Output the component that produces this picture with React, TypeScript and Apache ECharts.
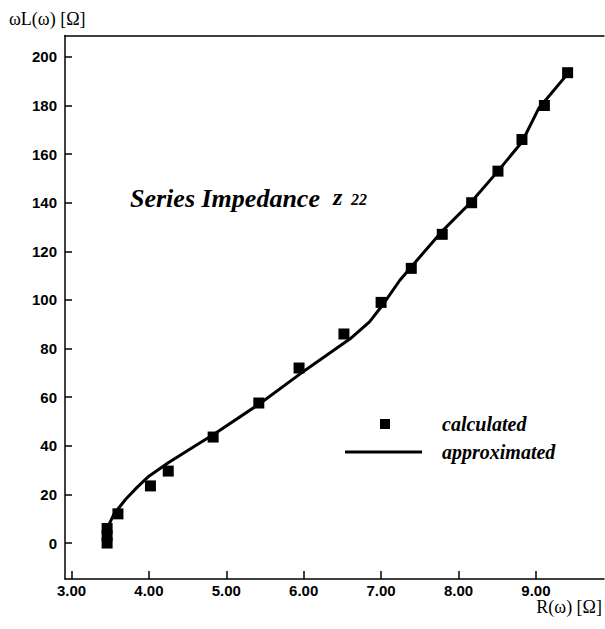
import React, { useEffect, useRef } from "react";
import * as echarts from "echarts";

// calculated points: R(ω) [Ω] and ωL(ω) [Ω]
const calcR = [3.46, 3.46, 3.46, 3.6, 4.02, 4.25, 4.83, 5.42, 5.94, 6.52, 7.0, 7.39, 7.79, 8.17, 8.51, 8.82, 9.11, 9.41];
const calcL = [0, 3, 6, 12, 23.5, 29.6, 43.6, 57.6, 72, 86, 99, 113, 127, 140, 153, 166, 180, 193.5];

// approximated curve
const approxR = [3.45, 3.46, 3.55, 3.7, 3.85, 4.0, 4.25, 4.6, 4.85, 5.44, 5.95, 6.6, 6.85, 7.01, 7.24, 7.4, 7.78, 8.17, 8.51, 8.82, 9.04, 9.41];
const approxL = [0, 6, 12, 18, 23, 27.5, 33, 40, 45, 57.5, 69.5, 84, 91, 97.5, 108, 114, 128, 140.5, 153, 165, 179, 193];

const xTicks = [3, 4, 5, 6, 7, 8, 9];
const yTicks = [0, 20, 40, 60, 80, 100, 120, 140, 160, 180, 200];

const SERIF = "'Liberation Serif', 'Times New Roman', serif";
const SANS = "'Liberation Sans', Arial, sans-serif";

export default function App() {
  const ref = useRef<HTMLDivElement>(null);
  useEffect(() => {
    document.body.style.margin = "0";
    if (!ref.current) return;
    const chart = echarts.init(ref.current, null, { renderer: "svg" });
    const calcData = calcR.map((r, i) => [r, calcL[i]]);
    const approxData = approxR.map((r, i) => [r, approxL[i]]);
    chart.setOption({
      animation: false,
      backgroundColor: "#fff",
      grid: { left: 65, right: 1, top: 35.5, bottom: 50 },
      xAxis: [
        {
          type: "value",
          min: 2.916,
          max: 9.88,
          axisLine: { show: true, onZero: false, lineStyle: { color: "#000", width: 1.5 } },
          axisTick: { show: true, inside: true, length: 8, customValues: xTicks, lineStyle: { color: "#000", width: 1.5 } },
          axisLabel: {
            show: true,
            customValues: xTicks,
            formatter: (v: number) => v.toFixed(2),
            color: "#000",
            fontFamily: SANS,
            fontWeight: "bold",
            fontSize: 15,
            margin: 4,
          },
          splitLine: { show: false },
        },
        {
          type: "value",
          position: "top",
          min: 2.916,
          max: 9.88,
          axisLine: { show: true, onZero: false, lineStyle: { color: "#000", width: 1.5 } },
          axisTick: { show: false },
          axisLabel: { show: false },
          splitLine: { show: false },
        },
      ],
      yAxis: {
        type: "value",
        min: -14.8,
        max: 208.8,
        axisLine: { show: true, onZero: false, lineStyle: { color: "#000", width: 1.5 } },
        axisTick: { show: true, inside: true, length: 7, customValues: yTicks, lineStyle: { color: "#000", width: 1.5 } },
        axisLabel: {
          show: true,
          customValues: yTicks,
          color: "#000",
          fontFamily: SANS,
          fontWeight: "bold",
          fontSize: 15,
          margin: 8,
        },
        splitLine: { show: false },
      },
      series: [
        {
          name: "approximated",
          type: "line",
          data: approxData,
          showSymbol: false,
          symbol: "none",
          lineStyle: { color: "#000", width: 3 },
          z: 2,
        },
        {
          name: "calculated",
          type: "scatter",
          data: calcData,
          symbol: "rect",
          symbolSize: 11,
          itemStyle: { color: "#000", opacity: 1 },
          z: 3,
        },
      ],
      graphic: [
        {
          type: "text",
          left: 9,
          top: 10,
          style: { text: "ωL(ω) [Ω]", fontFamily: SERIF, fontSize: 18, fill: "#000" },
        },
        {
          type: "text",
          x: 602,
          y: 607,
          style: { text: "R(ω) [Ω]", fontFamily: SERIF, fontSize: 18, fill: "#000", align: "right", verticalAlign: "middle" },
        },
        {
          type: "text",
          x: 130,
          y: 185,
          style: { text: "Series Impedance", fontFamily: SERIF, fontSize: 26, fontWeight: "bold", fontStyle: "italic", fill: "#000", align: "left", verticalAlign: "alphabetic" },
        },
        {
          type: "text",
          x: 333,
          y: 185,
          style: { text: "z", fontFamily: SERIF, fontSize: 24, fontWeight: "bold", fontStyle: "italic", fill: "#000", align: "left", verticalAlign: "alphabetic" },
        },
        {
          type: "text",
          x: 351,
          y: 191,
          style: { text: "22", fontFamily: SERIF, fontSize: 16, fontWeight: "bold", fontStyle: "italic", fill: "#000", align: "left", verticalAlign: "alphabetic" },
        },
        {
          type: "rect",
          shape: { x: 380, y: 419, width: 10, height: 10 },
          style: { fill: "#000" },
        },
        {
          type: "line",
          shape: { x1: 345, y1: 452, x2: 422, y2: 452 },
          style: { stroke: "#000", lineWidth: 3 },
        },
        {
          type: "text",
          x: 442,
          y: 424,
          style: { text: "calculated", fontFamily: SERIF, fontSize: 20, fontWeight: "bold", fontStyle: "italic", fill: "#000", verticalAlign: "middle" },
        },
        {
          type: "text",
          x: 442,
          y: 452,
          style: { text: "approximated", fontFamily: SERIF, fontSize: 20, fontWeight: "bold", fontStyle: "italic", fill: "#000", verticalAlign: "middle" },
        },
      ],
    });
    return () => chart.dispose();
  }, []);
  return <div ref={ref} style={{ width: 605, height: 629 }} />;
}
